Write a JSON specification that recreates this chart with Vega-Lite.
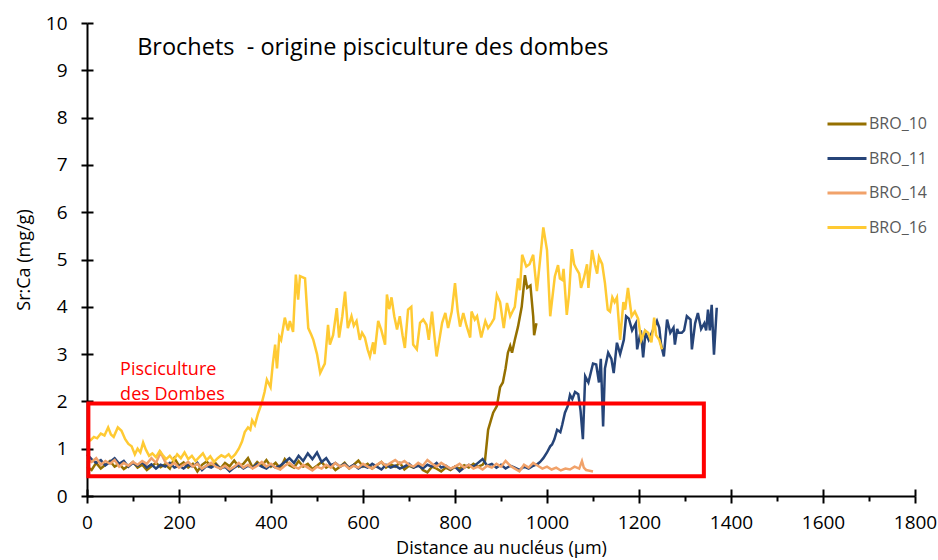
{
"$schema": "https://vega.github.io/schema/vega-lite/v6.json",
"width": 828, "height": 473,
"autosize": "none",
"padding": {"left": 87, "top": 23, "right": 23, "bottom": 64},
"background": "white",
"config": {"view": {"stroke": null}, "font": "Open Sans",
  "axis": {"grid": false, "domainColor": "#000", "tickColor": "#000", "labelColor": "#000", "titleColor": "#000", "labelFont": "Open Sans", "titleFont": "Open Sans", "titleFontWeight": "normal", "domainWidth": 2, "tickWidth": 2}},
"data": {"values": [
{"s":"BRO_10","x":0,"y":0.62},{"s":"BRO_10","x":10,"y":0.55},{"s":"BRO_10","x":20,"y":0.70},{"s":"BRO_10","x":30,"y":0.58},{"s":"BRO_10","x":40,"y":0.66},{"s":"BRO_10","x":50,"y":0.74},{"s":"BRO_10","x":60,"y":0.62},{"s":"BRO_10","x":70,"y":0.68},{"s":"BRO_10","x":80,"y":0.57},{"s":"BRO_10","x":90,"y":0.64},
{"s":"BRO_10","x":100,"y":0.72},{"s":"BRO_10","x":110,"y":0.60},{"s":"BRO_10","x":120,"y":0.66},{"s":"BRO_10","x":130,"y":0.55},{"s":"BRO_10","x":140,"y":0.63},{"s":"BRO_10","x":150,"y":0.70},{"s":"BRO_10","x":160,"y":0.61},{"s":"BRO_10","x":170,"y":0.67},{"s":"BRO_10","x":180,"y":0.58},{"s":"BRO_10","x":190,"y":0.80},
{"s":"BRO_10","x":200,"y":0.64},{"s":"BRO_10","x":210,"y":0.71},{"s":"BRO_10","x":220,"y":0.60},{"s":"BRO_10","x":230,"y":0.68},{"s":"BRO_10","x":240,"y":0.52},{"s":"BRO_10","x":250,"y":0.66},{"s":"BRO_10","x":260,"y":0.73},{"s":"BRO_10","x":270,"y":0.62},{"s":"BRO_10","x":280,"y":0.69},{"s":"BRO_10","x":290,"y":0.58},
{"s":"BRO_10","x":300,"y":0.70},{"s":"BRO_10","x":310,"y":0.63},{"s":"BRO_10","x":320,"y":0.75},{"s":"BRO_10","x":330,"y":0.62},{"s":"BRO_10","x":340,"y":0.68},{"s":"BRO_10","x":350,"y":0.80},{"s":"BRO_10","x":360,"y":0.60},{"s":"BRO_10","x":370,"y":0.72},{"s":"BRO_10","x":380,"y":0.64},{"s":"BRO_10","x":390,"y":0.76},
{"s":"BRO_10","x":400,"y":0.62},{"s":"BRO_10","x":410,"y":0.70},{"s":"BRO_10","x":420,"y":0.58},{"s":"BRO_10","x":430,"y":0.78},{"s":"BRO_10","x":440,"y":0.65},{"s":"BRO_10","x":450,"y":0.60},{"s":"BRO_10","x":460,"y":0.74},{"s":"BRO_10","x":470,"y":0.62},{"s":"BRO_10","x":480,"y":0.68},{"s":"BRO_10","x":490,"y":0.57},
{"s":"BRO_10","x":500,"y":0.64},{"s":"BRO_10","x":510,"y":0.72},{"s":"BRO_10","x":520,"y":0.60},{"s":"BRO_10","x":530,"y":0.66},{"s":"BRO_10","x":540,"y":0.55},{"s":"BRO_10","x":550,"y":0.62},{"s":"BRO_10","x":560,"y":0.70},{"s":"BRO_10","x":570,"y":0.58},{"s":"BRO_10","x":580,"y":0.66},{"s":"BRO_10","x":590,"y":0.75},
{"s":"BRO_10","x":600,"y":0.62},{"s":"BRO_10","x":610,"y":0.68},{"s":"BRO_10","x":620,"y":0.58},{"s":"BRO_10","x":630,"y":0.65},{"s":"BRO_10","x":640,"y":0.72},{"s":"BRO_10","x":650,"y":0.60},{"s":"BRO_10","x":660,"y":0.67},{"s":"BRO_10","x":670,"y":0.62},{"s":"BRO_10","x":680,"y":0.70},{"s":"BRO_10","x":690,"y":0.56},
{"s":"BRO_10","x":700,"y":0.64},{"s":"BRO_10","x":710,"y":0.60},{"s":"BRO_10","x":720,"y":0.68},{"s":"BRO_10","x":730,"y":0.55},{"s":"BRO_10","x":740,"y":0.50},{"s":"BRO_10","x":750,"y":0.62},{"s":"BRO_10","x":760,"y":0.58},{"s":"BRO_10","x":770,"y":0.52},{"s":"BRO_10","x":780,"y":0.60},{"s":"BRO_10","x":790,"y":0.55},
{"s":"BRO_10","x":800,"y":0.62},{"s":"BRO_10","x":810,"y":0.58},{"s":"BRO_10","x":820,"y":0.65},{"s":"BRO_10","x":830,"y":0.60},{"s":"BRO_10","x":840,"y":0.68},{"s":"BRO_10","x":850,"y":0.62},{"s":"BRO_10","x":860,"y":0.66},
{"s":"BRO_10","x":865,"y":0.73},{"s":"BRO_10","x":872,"y":1.4},{"s":"BRO_10","x":878,"y":1.6},{"s":"BRO_10","x":883,"y":1.76},{"s":"BRO_10","x":891,"y":1.9},{"s":"BRO_10","x":898,"y":2.3},{"s":"BRO_10","x":904,"y":2.4},{"s":"BRO_10","x":910,"y":2.7},{"s":"BRO_10","x":915,"y":3.03},{"s":"BRO_10","x":920,"y":3.17},
{"s":"BRO_10","x":924,"y":3.03},{"s":"BRO_10","x":930,"y":3.3},{"s":"BRO_10","x":937,"y":3.58},{"s":"BRO_10","x":945,"y":4.0},{"s":"BRO_10","x":952,"y":4.67},{"s":"BRO_10","x":957,"y":4.4},{"s":"BRO_10","x":964,"y":4.45},{"s":"BRO_10","x":970,"y":3.8},{"s":"BRO_10","x":972,"y":3.4},{"s":"BRO_10","x":977,"y":3.65},

{"s":"BRO_11","x":0,"y":0.88},{"s":"BRO_11","x":10,"y":0.78},{"s":"BRO_11","x":20,"y":0.70},{"s":"BRO_11","x":30,"y":0.76},{"s":"BRO_11","x":40,"y":0.65},{"s":"BRO_11","x":50,"y":0.72},{"s":"BRO_11","x":60,"y":0.80},{"s":"BRO_11","x":70,"y":0.68},{"s":"BRO_11","x":80,"y":0.74},{"s":"BRO_11","x":90,"y":0.62},
{"s":"BRO_11","x":100,"y":0.70},{"s":"BRO_11","x":110,"y":0.64},{"s":"BRO_11","x":120,"y":0.72},{"s":"BRO_11","x":130,"y":0.60},{"s":"BRO_11","x":140,"y":0.67},{"s":"BRO_11","x":150,"y":0.58},{"s":"BRO_11","x":160,"y":0.66},{"s":"BRO_11","x":170,"y":0.62},{"s":"BRO_11","x":180,"y":0.70},{"s":"BRO_11","x":190,"y":0.60},
{"s":"BRO_11","x":200,"y":0.64},{"s":"BRO_11","x":210,"y":0.58},{"s":"BRO_11","x":220,"y":0.66},{"s":"BRO_11","x":230,"y":0.62},{"s":"BRO_11","x":240,"y":0.70},{"s":"BRO_11","x":250,"y":0.55},{"s":"BRO_11","x":260,"y":0.64},{"s":"BRO_11","x":270,"y":0.60},{"s":"BRO_11","x":280,"y":0.66},{"s":"BRO_11","x":290,"y":0.58},
{"s":"BRO_11","x":300,"y":0.62},{"s":"BRO_11","x":310,"y":0.52},{"s":"BRO_11","x":320,"y":0.60},{"s":"BRO_11","x":330,"y":0.66},{"s":"BRO_11","x":340,"y":0.58},{"s":"BRO_11","x":350,"y":0.64},{"s":"BRO_11","x":360,"y":0.60},{"s":"BRO_11","x":370,"y":0.68},{"s":"BRO_11","x":380,"y":0.62},{"s":"BRO_11","x":390,"y":0.58},
{"s":"BRO_11","x":400,"y":0.66},{"s":"BRO_11","x":410,"y":0.60},{"s":"BRO_11","x":420,"y":0.64},{"s":"BRO_11","x":430,"y":0.72},{"s":"BRO_11","x":440,"y":0.80},{"s":"BRO_11","x":450,"y":0.70},{"s":"BRO_11","x":460,"y":0.85},{"s":"BRO_11","x":470,"y":0.74},{"s":"BRO_11","x":480,"y":0.90},{"s":"BRO_11","x":490,"y":0.78},
{"s":"BRO_11","x":500,"y":0.92},{"s":"BRO_11","x":510,"y":0.72},{"s":"BRO_11","x":520,"y":0.80},{"s":"BRO_11","x":530,"y":0.65},{"s":"BRO_11","x":540,"y":0.70},{"s":"BRO_11","x":550,"y":0.62},{"s":"BRO_11","x":560,"y":0.68},{"s":"BRO_11","x":570,"y":0.60},{"s":"BRO_11","x":580,"y":0.66},{"s":"BRO_11","x":590,"y":0.58},
{"s":"BRO_11","x":600,"y":0.64},{"s":"BRO_11","x":610,"y":0.60},{"s":"BRO_11","x":620,"y":0.68},{"s":"BRO_11","x":630,"y":0.62},{"s":"BRO_11","x":640,"y":0.56},{"s":"BRO_11","x":650,"y":0.66},{"s":"BRO_11","x":660,"y":0.60},{"s":"BRO_11","x":670,"y":0.64},{"s":"BRO_11","x":680,"y":0.58},{"s":"BRO_11","x":690,"y":0.62},
{"s":"BRO_11","x":700,"y":0.68},{"s":"BRO_11","x":710,"y":0.60},{"s":"BRO_11","x":720,"y":0.64},{"s":"BRO_11","x":730,"y":0.58},{"s":"BRO_11","x":740,"y":0.66},{"s":"BRO_11","x":750,"y":0.62},{"s":"BRO_11","x":760,"y":0.70},{"s":"BRO_11","x":770,"y":0.60},{"s":"BRO_11","x":780,"y":0.64},{"s":"BRO_11","x":790,"y":0.57},
{"s":"BRO_11","x":800,"y":0.62},{"s":"BRO_11","x":810,"y":0.52},{"s":"BRO_11","x":820,"y":0.60},{"s":"BRO_11","x":830,"y":0.66},{"s":"BRO_11","x":840,"y":0.62},{"s":"BRO_11","x":850,"y":0.70},{"s":"BRO_11","x":860,"y":0.78},{"s":"BRO_11","x":870,"y":0.64},{"s":"BRO_11","x":880,"y":0.68},{"s":"BRO_11","x":890,"y":0.60},
{"s":"BRO_11","x":900,"y":0.66},{"s":"BRO_11","x":910,"y":0.58},{"s":"BRO_11","x":920,"y":0.64},{"s":"BRO_11","x":930,"y":0.60},{"s":"BRO_11","x":940,"y":0.55},{"s":"BRO_11","x":950,"y":0.62},{"s":"BRO_11","x":960,"y":0.58},{"s":"BRO_11","x":970,"y":0.64},{"s":"BRO_11","x":980,"y":0.68},
{"s":"BRO_11","x":985,"y":0.72},{"s":"BRO_11","x":992,"y":0.80},{"s":"BRO_11","x":1000,"y":0.92},{"s":"BRO_11","x":1007,"y":1.05},{"s":"BRO_11","x":1011,"y":1.09},{"s":"BRO_11","x":1016,"y":1.2},{"s":"BRO_11","x":1022,"y":1.4},{"s":"BRO_11","x":1029,"y":1.35},{"s":"BRO_11","x":1033,"y":1.5},{"s":"BRO_11","x":1039,"y":1.76},
{"s":"BRO_11","x":1045,"y":1.9},{"s":"BRO_11","x":1050,"y":2.14},{"s":"BRO_11","x":1055,"y":2.05},{"s":"BRO_11","x":1061,"y":2.2},{"s":"BRO_11","x":1068,"y":2.15},{"s":"BRO_11","x":1073,"y":1.8},{"s":"BRO_11","x":1078,"y":1.2},{"s":"BRO_11","x":1083,"y":2.53},{"s":"BRO_11","x":1090,"y":2.4},{"s":"BRO_11","x":1095,"y":2.6},
{"s":"BRO_11","x":1100,"y":2.8},{"s":"BRO_11","x":1107,"y":2.78},{"s":"BRO_11","x":1113,"y":2.4},{"s":"BRO_11","x":1117,"y":2.9},{"s":"BRO_11","x":1122,"y":1.47},{"s":"BRO_11","x":1126,"y":2.7},{"s":"BRO_11","x":1133,"y":3.03},{"s":"BRO_11","x":1140,"y":2.9},{"s":"BRO_11","x":1145,"y":2.6},{"s":"BRO_11","x":1152,"y":3.24},
{"s":"BRO_11","x":1159,"y":3.0},{"s":"BRO_11","x":1167,"y":3.3},{"s":"BRO_11","x":1172,"y":3.8},{"s":"BRO_11","x":1178,"y":3.75},{"s":"BRO_11","x":1185,"y":3.5},{"s":"BRO_11","x":1193,"y":3.65},{"s":"BRO_11","x":1196,"y":3.1},{"s":"BRO_11","x":1204,"y":3.5},{"s":"BRO_11","x":1209,"y":2.93},{"s":"BRO_11","x":1214,"y":3.45},
{"s":"BRO_11","x":1221,"y":3.3},{"s":"BRO_11","x":1230,"y":3.5},{"s":"BRO_11","x":1239,"y":3.7},{"s":"BRO_11","x":1244,"y":3.56},{"s":"BRO_11","x":1248,"y":3.2},{"s":"BRO_11","x":1254,"y":2.95},{"s":"BRO_11","x":1261,"y":3.73},{"s":"BRO_11","x":1268,"y":3.45},{"s":"BRO_11","x":1275,"y":3.56},{"s":"BRO_11","x":1278,"y":3.2},
{"s":"BRO_11","x":1283,"y":3.53},{"s":"BRO_11","x":1286,"y":3.45},{"s":"BRO_11","x":1293,"y":3.45},{"s":"BRO_11","x":1298,"y":3.5},{"s":"BRO_11","x":1304,"y":3.8},{"s":"BRO_11","x":1312,"y":3.73},{"s":"BRO_11","x":1315,"y":3.1},{"s":"BRO_11","x":1322,"y":3.65},{"s":"BRO_11","x":1328,"y":3.87},{"s":"BRO_11","x":1335,"y":3.53},
{"s":"BRO_11","x":1342,"y":3.65},{"s":"BRO_11","x":1346,"y":3.5},{"s":"BRO_11","x":1350,"y":3.94},{"s":"BRO_11","x":1354,"y":3.5},{"s":"BRO_11","x":1358,"y":4.04},{"s":"BRO_11","x":1363,"y":2.99},{"s":"BRO_11","x":1369,"y":3.98},

{"s":"BRO_14","x":0,"y":0.78},{"s":"BRO_14","x":10,"y":0.72},{"s":"BRO_14","x":20,"y":0.80},{"s":"BRO_14","x":30,"y":0.66},{"s":"BRO_14","x":40,"y":0.74},{"s":"BRO_14","x":50,"y":0.68},{"s":"BRO_14","x":60,"y":0.76},{"s":"BRO_14","x":70,"y":0.62},{"s":"BRO_14","x":80,"y":0.70},{"s":"BRO_14","x":90,"y":0.64},
{"s":"BRO_14","x":100,"y":0.72},{"s":"BRO_14","x":110,"y":0.66},{"s":"BRO_14","x":120,"y":0.74},{"s":"BRO_14","x":130,"y":0.68},{"s":"BRO_14","x":140,"y":0.80},{"s":"BRO_14","x":150,"y":0.70},{"s":"BRO_14","x":160,"y":0.92},{"s":"BRO_14","x":170,"y":0.72},{"s":"BRO_14","x":180,"y":0.64},{"s":"BRO_14","x":190,"y":0.70},
{"s":"BRO_14","x":200,"y":0.60},{"s":"BRO_14","x":210,"y":0.66},{"s":"BRO_14","x":220,"y":0.72},{"s":"BRO_14","x":230,"y":0.62},{"s":"BRO_14","x":240,"y":0.68},{"s":"BRO_14","x":250,"y":0.58},{"s":"BRO_14","x":260,"y":0.64},{"s":"BRO_14","x":270,"y":0.70},{"s":"BRO_14","x":280,"y":0.62},{"s":"BRO_14","x":290,"y":0.58},
{"s":"BRO_14","x":300,"y":0.64},{"s":"BRO_14","x":310,"y":0.56},{"s":"BRO_14","x":320,"y":0.62},{"s":"BRO_14","x":330,"y":0.70},{"s":"BRO_14","x":340,"y":0.60},{"s":"BRO_14","x":350,"y":0.66},{"s":"BRO_14","x":360,"y":0.58},{"s":"BRO_14","x":370,"y":0.64},{"s":"BRO_14","x":380,"y":0.72},{"s":"BRO_14","x":390,"y":0.62},
{"s":"BRO_14","x":400,"y":0.68},{"s":"BRO_14","x":410,"y":0.60},{"s":"BRO_14","x":420,"y":0.56},{"s":"BRO_14","x":430,"y":0.64},{"s":"BRO_14","x":440,"y":0.70},{"s":"BRO_14","x":450,"y":0.62},{"s":"BRO_14","x":460,"y":0.58},{"s":"BRO_14","x":470,"y":0.66},{"s":"BRO_14","x":480,"y":0.60},{"s":"BRO_14","x":490,"y":0.54},
{"s":"BRO_14","x":500,"y":0.62},{"s":"BRO_14","x":510,"y":0.58},{"s":"BRO_14","x":520,"y":0.66},{"s":"BRO_14","x":530,"y":0.60},{"s":"BRO_14","x":540,"y":0.70},{"s":"BRO_14","x":550,"y":0.62},{"s":"BRO_14","x":560,"y":0.66},{"s":"BRO_14","x":570,"y":0.58},{"s":"BRO_14","x":580,"y":0.64},{"s":"BRO_14","x":590,"y":0.60},
{"s":"BRO_14","x":600,"y":0.68},{"s":"BRO_14","x":610,"y":0.62},{"s":"BRO_14","x":620,"y":0.58},{"s":"BRO_14","x":630,"y":0.66},{"s":"BRO_14","x":640,"y":0.72},{"s":"BRO_14","x":650,"y":0.64},{"s":"BRO_14","x":660,"y":0.70},{"s":"BRO_14","x":670,"y":0.76},{"s":"BRO_14","x":680,"y":0.68},{"s":"BRO_14","x":690,"y":0.74},
{"s":"BRO_14","x":700,"y":0.66},{"s":"BRO_14","x":710,"y":0.62},{"s":"BRO_14","x":720,"y":0.70},{"s":"BRO_14","x":730,"y":0.64},{"s":"BRO_14","x":740,"y":0.76},{"s":"BRO_14","x":750,"y":0.68},{"s":"BRO_14","x":760,"y":0.62},{"s":"BRO_14","x":770,"y":0.70},{"s":"BRO_14","x":780,"y":0.64},{"s":"BRO_14","x":790,"y":0.58},
{"s":"BRO_14","x":800,"y":0.62},{"s":"BRO_14","x":810,"y":0.68},{"s":"BRO_14","x":820,"y":0.60},{"s":"BRO_14","x":830,"y":0.66},{"s":"BRO_14","x":840,"y":0.58},{"s":"BRO_14","x":850,"y":0.62},{"s":"BRO_14","x":860,"y":0.56},{"s":"BRO_14","x":870,"y":0.64},{"s":"BRO_14","x":880,"y":0.60},{"s":"BRO_14","x":890,"y":0.68},
{"s":"BRO_14","x":900,"y":0.62},{"s":"BRO_14","x":910,"y":0.74},{"s":"BRO_14","x":920,"y":0.64},{"s":"BRO_14","x":930,"y":0.58},{"s":"BRO_14","x":940,"y":0.52},{"s":"BRO_14","x":950,"y":0.66},{"s":"BRO_14","x":960,"y":0.60},{"s":"BRO_14","x":970,"y":0.70},{"s":"BRO_14","x":980,"y":0.64},{"s":"BRO_14","x":990,"y":0.58},
{"s":"BRO_14","x":1000,"y":0.62},{"s":"BRO_14","x":1010,"y":0.56},{"s":"BRO_14","x":1020,"y":0.60},{"s":"BRO_14","x":1030,"y":0.54},{"s":"BRO_14","x":1040,"y":0.58},{"s":"BRO_14","x":1050,"y":0.56},{"s":"BRO_14","x":1060,"y":0.62},{"s":"BRO_14","x":1070,"y":0.58},{"s":"BRO_14","x":1076,"y":0.74},{"s":"BRO_14","x":1080,"y":0.60},
{"s":"BRO_14","x":1085,"y":0.55},{"s":"BRO_14","x":1090,"y":0.54},{"s":"BRO_14","x":1100,"y":0.52},

{"s":"BRO_16","x":0,"y":1.15},{"s":"BRO_16","x":8,"y":1.18},{"s":"BRO_16","x":15,"y":1.25},{"s":"BRO_16","x":22,"y":1.22},{"s":"BRO_16","x":30,"y":1.32},{"s":"BRO_16","x":38,"y":1.28},{"s":"BRO_16","x":46,"y":1.45},{"s":"BRO_16","x":52,"y":1.30},{"s":"BRO_16","x":58,"y":1.25},{"s":"BRO_16","x":67,"y":1.45},
{"s":"BRO_16","x":75,"y":1.38},{"s":"BRO_16","x":83,"y":1.20},{"s":"BRO_16","x":90,"y":1.10},{"s":"BRO_16","x":97,"y":1.05},{"s":"BRO_16","x":104,"y":0.88},{"s":"BRO_16","x":110,"y":1.0},{"s":"BRO_16","x":116,"y":0.92},{"s":"BRO_16","x":122,"y":1.13},{"s":"BRO_16","x":128,"y":0.98},{"s":"BRO_16","x":135,"y":0.85},
{"s":"BRO_16","x":142,"y":0.9},{"s":"BRO_16","x":150,"y":0.82},{"s":"BRO_16","x":158,"y":0.95},{"s":"BRO_16","x":165,"y":0.86},{"s":"BRO_16","x":172,"y":0.78},{"s":"BRO_16","x":180,"y":0.85},{"s":"BRO_16","x":188,"y":0.75},{"s":"BRO_16","x":196,"y":0.88},{"s":"BRO_16","x":204,"y":0.80},{"s":"BRO_16","x":212,"y":0.92},
{"s":"BRO_16","x":220,"y":0.78},{"s":"BRO_16","x":228,"y":0.85},{"s":"BRO_16","x":236,"y":0.74},{"s":"BRO_16","x":244,"y":0.82},{"s":"BRO_16","x":252,"y":0.90},{"s":"BRO_16","x":260,"y":0.76},{"s":"BRO_16","x":268,"y":0.84},{"s":"BRO_16","x":276,"y":0.72},{"s":"BRO_16","x":284,"y":0.80},{"s":"BRO_16","x":292,"y":0.86},
{"s":"BRO_16","x":300,"y":0.82},{"s":"BRO_16","x":308,"y":0.88},{"s":"BRO_16","x":314,"y":0.80},{"s":"BRO_16","x":322,"y":0.88},{"s":"BRO_16","x":330,"y":1.0},{"s":"BRO_16","x":337,"y":1.15},{"s":"BRO_16","x":343,"y":1.35},{"s":"BRO_16","x":350,"y":1.45},{"s":"BRO_16","x":355,"y":1.40},{"s":"BRO_16","x":359,"y":1.6},
{"s":"BRO_16","x":365,"y":1.5},{"s":"BRO_16","x":372,"y":1.75},{"s":"BRO_16","x":380,"y":1.97},{"s":"BRO_16","x":386,"y":2.2},{"s":"BRO_16","x":391,"y":2.46},{"s":"BRO_16","x":399,"y":2.3},{"s":"BRO_16","x":404,"y":2.8},{"s":"BRO_16","x":409,"y":3.2},{"s":"BRO_16","x":413,"y":2.7},{"s":"BRO_16","x":418,"y":3.37},
{"s":"BRO_16","x":422,"y":3.3},{"s":"BRO_16","x":430,"y":3.77},{"s":"BRO_16","x":437,"y":3.5},{"s":"BRO_16","x":441,"y":3.7},{"s":"BRO_16","x":448,"y":3.47},{"s":"BRO_16","x":454,"y":4.68},{"s":"BRO_16","x":459,"y":4.15},{"s":"BRO_16","x":463,"y":4.65},{"s":"BRO_16","x":474,"y":4.6},{"s":"BRO_16","x":481,"y":3.55},
{"s":"BRO_16","x":488,"y":3.4},{"s":"BRO_16","x":492,"y":3.3},{"s":"BRO_16","x":500,"y":3.0},{"s":"BRO_16","x":507,"y":2.6},{"s":"BRO_16","x":512,"y":2.7},{"s":"BRO_16","x":517,"y":2.8},{"s":"BRO_16","x":524,"y":3.62},{"s":"BRO_16","x":528,"y":3.2},{"s":"BRO_16","x":535,"y":3.4},{"s":"BRO_16","x":543,"y":3.97},
{"s":"BRO_16","x":548,"y":3.35},{"s":"BRO_16","x":555,"y":3.8},{"s":"BRO_16","x":561,"y":4.32},{"s":"BRO_16","x":567,"y":3.55},{"s":"BRO_16","x":575,"y":3.8},{"s":"BRO_16","x":580,"y":3.6},{"s":"BRO_16","x":586,"y":3.7},{"s":"BRO_16","x":593,"y":3.3},{"s":"BRO_16","x":598,"y":3.45},{"s":"BRO_16","x":604,"y":3.35},
{"s":"BRO_16","x":610,"y":3.1},{"s":"BRO_16","x":615,"y":2.95},{"s":"BRO_16","x":622,"y":3.25},{"s":"BRO_16","x":625,"y":3.0},{"s":"BRO_16","x":633,"y":3.7},{"s":"BRO_16","x":640,"y":3.5},{"s":"BRO_16","x":648,"y":3.2},{"s":"BRO_16","x":652,"y":4.26},{"s":"BRO_16","x":657,"y":3.95},{"s":"BRO_16","x":662,"y":4.2},
{"s":"BRO_16","x":668,"y":3.8},{"s":"BRO_16","x":674,"y":3.52},{"s":"BRO_16","x":680,"y":3.8},{"s":"BRO_16","x":686,"y":3.4},{"s":"BRO_16","x":691,"y":3.13},{"s":"BRO_16","x":698,"y":3.94},{"s":"BRO_16","x":705,"y":4.0},{"s":"BRO_16","x":709,"y":3.2},{"s":"BRO_16","x":717,"y":3.1},{"s":"BRO_16","x":724,"y":3.66},
{"s":"BRO_16","x":731,"y":3.73},{"s":"BRO_16","x":738,"y":3.62},{"s":"BRO_16","x":743,"y":3.3},{"s":"BRO_16","x":750,"y":3.9},{"s":"BRO_16","x":755,"y":3.4},{"s":"BRO_16","x":760,"y":2.95},{"s":"BRO_16","x":766,"y":3.3},{"s":"BRO_16","x":772,"y":3.66},{"s":"BRO_16","x":779,"y":3.87},{"s":"BRO_16","x":785,"y":3.55},
{"s":"BRO_16","x":793,"y":3.9},{"s":"BRO_16","x":800,"y":4.5},{"s":"BRO_16","x":806,"y":3.9},{"s":"BRO_16","x":811,"y":3.58},{"s":"BRO_16","x":818,"y":3.87},{"s":"BRO_16","x":825,"y":3.6},{"s":"BRO_16","x":833,"y":3.35},{"s":"BRO_16","x":836,"y":3.9},{"s":"BRO_16","x":843,"y":3.73},{"s":"BRO_16","x":848,"y":3.8},
{"s":"BRO_16","x":857,"y":3.35},{"s":"BRO_16","x":866,"y":3.7},{"s":"BRO_16","x":872,"y":3.55},{"s":"BRO_16","x":879,"y":3.65},{"s":"BRO_16","x":885,"y":3.75},{"s":"BRO_16","x":891,"y":4.25},{"s":"BRO_16","x":898,"y":4.1},{"s":"BRO_16","x":906,"y":3.55},{"s":"BRO_16","x":913,"y":4.08},{"s":"BRO_16","x":920,"y":3.8},
{"s":"BRO_16","x":925,"y":3.9},{"s":"BRO_16","x":930,"y":4.0},{"s":"BRO_16","x":937,"y":4.6},{"s":"BRO_16","x":941,"y":4.35},{"s":"BRO_16","x":946,"y":5.1},{"s":"BRO_16","x":955,"y":4.85},{"s":"BRO_16","x":962,"y":4.9},{"s":"BRO_16","x":970,"y":5.1},{"s":"BRO_16","x":978,"y":4.33},{"s":"BRO_16","x":985,"y":5.0},
{"s":"BRO_16","x":992,"y":5.68},{"s":"BRO_16","x":1000,"y":5.2},{"s":"BRO_16","x":1007,"y":3.8},{"s":"BRO_16","x":1017,"y":4.64},{"s":"BRO_16","x":1024,"y":4.88},{"s":"BRO_16","x":1028,"y":4.6},{"s":"BRO_16","x":1033,"y":4.57},{"s":"BRO_16","x":1036,"y":4.8},{"s":"BRO_16","x":1043,"y":3.83},{"s":"BRO_16","x":1048,"y":4.27},
{"s":"BRO_16","x":1054,"y":5.22},{"s":"BRO_16","x":1059,"y":4.9},{"s":"BRO_16","x":1064,"y":4.8},{"s":"BRO_16","x":1070,"y":4.7},{"s":"BRO_16","x":1074,"y":4.4},{"s":"BRO_16","x":1080,"y":4.6},{"s":"BRO_16","x":1087,"y":4.9},{"s":"BRO_16","x":1090,"y":4.4},{"s":"BRO_16","x":1098,"y":5.2},{"s":"BRO_16","x":1104,"y":4.9},
{"s":"BRO_16","x":1109,"y":4.7},{"s":"BRO_16","x":1113,"y":5.05},{"s":"BRO_16","x":1120,"y":4.9},{"s":"BRO_16","x":1126,"y":4.5},{"s":"BRO_16","x":1132,"y":3.94},{"s":"BRO_16","x":1137,"y":3.9},{"s":"BRO_16","x":1142,"y":4.2},{"s":"BRO_16","x":1147,"y":4.1},{"s":"BRO_16","x":1152,"y":4.2},{"s":"BRO_16","x":1159,"y":3.3},
{"s":"BRO_16","x":1166,"y":4.1},{"s":"BRO_16","x":1170,"y":3.94},{"s":"BRO_16","x":1176,"y":4.4},{"s":"BRO_16","x":1184,"y":3.8},{"s":"BRO_16","x":1191,"y":3.9},{"s":"BRO_16","x":1198,"y":3.75},{"s":"BRO_16","x":1205,"y":3.3},{"s":"BRO_16","x":1213,"y":3.5},{"s":"BRO_16","x":1220,"y":3.45},{"s":"BRO_16","x":1227,"y":3.25},
{"s":"BRO_16","x":1233,"y":3.77},{"s":"BRO_16","x":1237,"y":3.4},{"s":"BRO_16","x":1244,"y":3.3},{"s":"BRO_16","x":1250,"y":3.1}
]},
"layer": [
  {
    "mark": {"type": "line", "strokeWidth": 2.5},
    "encoding": {
      "x": {"field": "x", "type": "quantitative", "scale": {"domain": [0, 1800], "nice": false, "zero": false},
        "axis": {"title": "Distance au nucléus (µm)", "values": [0,100,200,300,400,500,600,700,800,900,1000,1100,1200,1300,1400,1500,1600,1700,1800],
          "labelExpr": "datum.value % 200 === 0 ? datum.label : ''", "format": "d",
          "tickSize": {"condition": {"test": "datum.value % 200 === 0", "value": 7}, "value": 5},
          "labelPadding": 10, "labelFontSize": 19, "titleFontSize": 18, "titlePadding": 7, "labelFlush": false, "labelOverlap": false}},
      "y": {"field": "y", "type": "quantitative", "scale": {"domain": [0, 10], "nice": false},
        "axis": {"title": "Sr:Ca (mg/g)", "values": [0,1,2,3,4,5,6,7,8,9,10], "tickSize": 6, "labelPadding": 14, "labelFontSize": 19, "titleFontSize": 18, "titlePadding": 12, "labelFlush": false}},
      "color": {"field": "s", "type": "nominal",
        "scale": {"domain": ["BRO_10", "BRO_11", "BRO_14", "BRO_16"], "range": ["#957000", "#264478", "#F1A26A", "#FFCA33"]},
        "legend": {"title": null, "orient": "none", "legendX": 739, "legendY": 80, "symbolType": "stroke", "symbolSize": 1521, "symbolStrokeWidth": 3, "labelFontSize": 16, "labelColor": "#595959", "labelFont": "Open Sans", "labelOffset": 1, "rowPadding": 5.5}}
    }
  },
  {
    "data": {"values": [{}]},
    "mark": {"type": "rect", "filled": false, "stroke": "#FF0000", "strokeWidth": 4},
    "encoding": {
      "x": {"datum": 3, "type": "quantitative", "axis": {"orient": "bottom", "values": [0,200,400,600,800,1000,1200,1400,1600,1800], "tickSize": -7, "labels": false, "domain": false, "title": null}},
      "x2": {"datum": 1341},
      "y": {"datum": 0.42, "type": "quantitative", "axis": {"orient": "left", "values": [0,1,2,3,4,5,6,7,8,9,10], "tickSize": -6, "labels": false, "domain": false, "title": null}},
      "y2": {"datum": 1.955}
    }
  },
  {
    "data": {"values": [{}]},
    "mark": {"type": "text", "align": "left", "baseline": "alphabetic", "fontSize": 23.5, "font": "Open Sans", "color": "#000"},
    "encoding": {
      "x": {"datum": 109, "type": "quantitative", "axis": null},
      "y": {"datum": 9.33, "type": "quantitative", "axis": null},
      "text": {"value": "Brochets \u00a0- origine pisciculture des dombes"}
    }
  },
  {
    "data": {"values": [{}]},
    "mark": {"type": "text", "align": "left", "baseline": "alphabetic", "fontSize": 18, "font": "Open Sans", "color": "#FF0000", "lineHeight": 25},
    "encoding": {
      "x": {"datum": 72, "type": "quantitative", "axis": null},
      "y": {"datum": 2.55, "type": "quantitative", "axis": null},
      "text": {"value": ["Pisciculture", "des Dombes"]}
    }
  }
],
"resolve": {"axis": {"x": "independent", "y": "independent"}}
}
